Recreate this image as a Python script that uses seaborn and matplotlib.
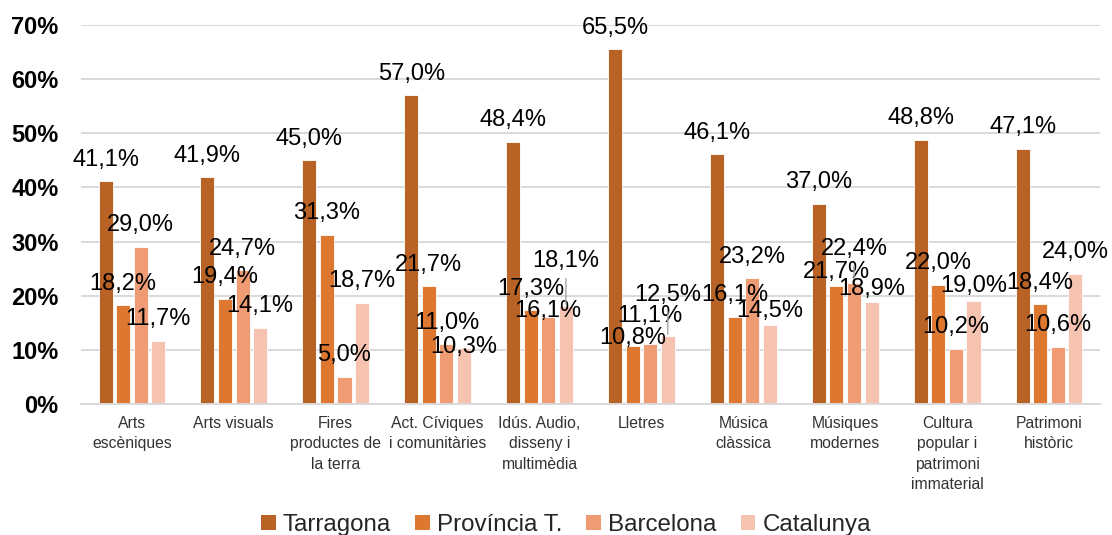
import matplotlib
matplotlib.use("Agg")
import matplotlib.pyplot as plt
import seaborn as sns
import pandas as pd
from matplotlib.patches import Patch

# ---------------- data ----------------
categories = [
    "Arts\nescèniques", "Arts visuals", "Fires\nproductes de\nla terra",
    "Act. Cíviques\ni comunitàries", "Idús. Audio,\ndisseny i\nmultimèdia",
    "Lletres", "Música\nclàssica", "Músiques\nmodernes",
    "Cultura\npopular i\npatrimoni\nimmaterial", "Patrimoni\nhistòric",
]
series = ["Tarragona", "Província T.", "Barcelona", "Catalunya"]
tarragona = [41.1, 41.9, 45.0, 57.0, 48.4, 65.5, 46.1, 37.0, 48.8, 47.1]
provincia = [18.2, 19.4, 31.3, 21.7, 17.3, 10.8, 16.1, 21.7, 22.0, 18.4]
barcelona = [29.0, 24.7, 5.0, 11.0, 16.1, 11.1, 23.2, 22.4, 10.2, 10.6]
catalunya = [11.7, 14.1, 18.7, 10.3, 18.1, 12.5, 14.5, 18.9, 19.0, 24.0]
y_ticks = [0, 10, 20, 30, 40, 50, 60, 70]

# ---------------- styles ----------------
colors = ["#B96226", "#DE7730", "#EF9B73", "#F5C3B0"]
# manual label displacement (pixels, + = up) for (series, category)
label_shift_px = {(3, 3): -20, (2, 4): -16, (3, 4): 23, (1, 5): -14.5,
                  (2, 5): 6, (3, 5): 20, (3, 6): -7.5, (1, 7): -7.5,
                  (2, 7): 12, (3, 7): -9, (3, 8): -6}
leaders = [(3, 4), (3, 5), (2, 7)]
base_px = 15.6
PX2PT = 0.72

sns.set_style("white")
plt.rcParams["font.family"] = ["Liberation Sans", "DejaVu Sans"]

values = [tarragona, provincia, barcelona, catalunya]
df = pd.DataFrame({
    "Categoria": categories * len(series),
    "Serie": [s for s in series for _ in categories],
    "Valor": tarragona + provincia + barcelona + catalunya,
})

fig = plt.figure(figsize=(11.12, 5.35), dpi=100)
ax = fig.add_axes([0.0728, 0.2449, 0.9892 - 0.0728, 0.9533 - 0.2449])

sns.barplot(data=df, x="Categoria", y="Valor", hue="Serie", order=categories,
            hue_order=series, palette=colors, width=0.69, gap=0.2,
            saturation=1, legend=False, errorbar=None,
            edgecolor="white", linewidth=0.6, ax=ax)

ax.set_ylim(0, 70)
ax.set_xlim(-0.5, len(categories) - 0.5)
ax.set_yticks(y_ticks)
ax.set_yticklabels([f"{v}%" for v in y_ticks], fontsize=17, fontweight="bold",
                   color="black")
ax.tick_params(axis="y", length=0, pad=16)
ax.tick_params(axis="x", length=0, pad=8.5)
for lab in ax.get_xticklabels():
    lab.set_fontsize(11.3)
    lab.set_color("#333333")
    lab.set_linespacing(1.45)
ax.set_xlabel("")
ax.set_ylabel("")
ax.yaxis.grid(True, color="#D9D9D9", linewidth=1.4)
ax.set_axisbelow(True)
for s in ["top", "right", "left"]:
    ax.spines[s].set_visible(False)
ax.spines["bottom"].set_color("#D9D9D9")
ax.spines["bottom"].set_linewidth(1.4)

for si, cont in enumerate(ax.containers):
    for ci, bar in enumerate(cont):
        val = values[si][ci]
        x = bar.get_x() + bar.get_width() / 2
        top = bar.get_height()
        shift = label_shift_px.get((si, ci), 0)
        dy = (base_px + shift) * PX2PT
        ax.annotate(f"{val:.1f}%".replace(".", ","), (x, top), xytext=(0, dy),
                    textcoords="offset points", ha="center", va="baseline",
                    fontsize=17, color="black", annotation_clip=False)
        if (si, ci) in leaders:
            start = (base_px + shift - 11) * PX2PT
            ax.annotate("", xy=(x, top), xytext=(0, start),
                        textcoords="offset points",
                        arrowprops=dict(arrowstyle="-", color="#A6A6A6",
                                        lw=1.0, shrinkA=0, shrinkB=1.5))

handles = [Patch(facecolor=c, edgecolor="none", label=s)
           for c, s in zip(colors, series)]
fig.legend(handles=handles, loc="center", bbox_to_anchor=(0.509, 0.019),
           ncol=4, frameon=False, fontsize=17.4, handlelength=0.6,
           handleheight=0.55, handletextpad=0.3, columnspacing=1.0,
           borderpad=0, borderaxespad=0)

fig.savefig("out.png", dpi=100)
